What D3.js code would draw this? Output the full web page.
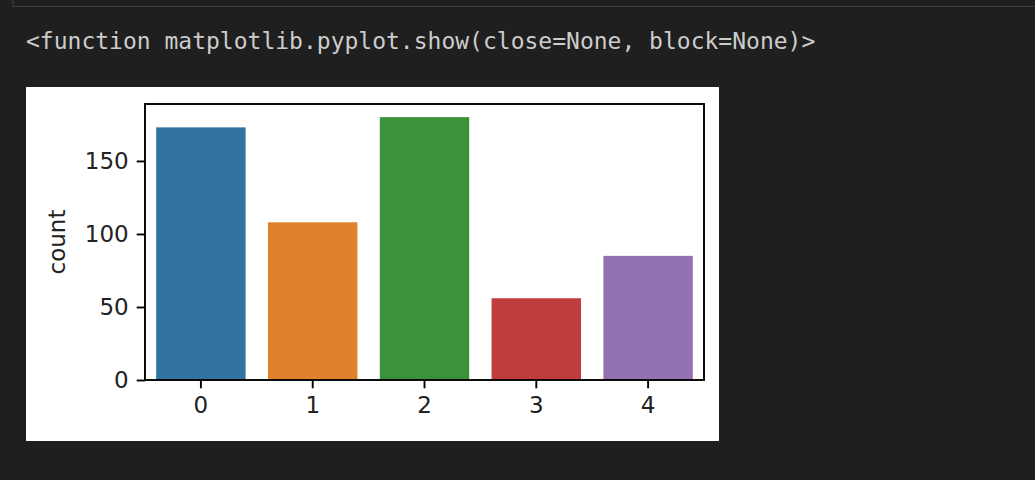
<!DOCTYPE html>
<html>
<head>
<meta charset="utf-8">
<script src="https://d3js.org/d3.v7.min.js"></script>
<style>
  body { margin: 0; background: #1f1f1f; }
  svg { display: block; }
</style>
</head>
<body>
<div id="chart"></div>
<script>
var categories = ["0", "1", "2", "3", "4"];
var counts = [173, 108, 180, 56, 85];
var yTicks = [0, 50, 100, 150];
var barColors = ["#3274a1", "#e1812c", "#3a923a", "#c03d3e", "#9372b2"];

var width = 1035, height = 480;
var fig = {left: 26, top: 87, right: 719, bottom: 441};
var margin = {top: 104, right: 704, bottom: 380, left: 145};

var svg = d3.select("#chart").append("svg")
    .attr("width", width)
    .attr("height", height);

// notebook chrome
svg.append("path")
    .attr("d", "M13,0 V6.5 H" + width)
    .attr("fill", "none")
    .attr("stroke", "#3c3c3c")
    .attr("stroke-width", 1.2);

svg.append("text")
    .attr("x", 26)
    .attr("y", 49)
    .attr("fill", "#cccccc")
    .style("font-family", "'DejaVu Sans Mono', monospace")
    .style("font-size", "23px")
    .text("<function matplotlib.pyplot.show(close=None, block=None)>");

// white figure
svg.append("rect")
    .attr("x", fig.left).attr("y", fig.top)
    .attr("width", fig.right - fig.left)
    .attr("height", fig.bottom - fig.top)
    .attr("fill", "#ffffff");

var x = d3.scaleBand()
    .domain(categories)
    .range([margin.left, margin.right])
    .paddingInner(0.2)
    .paddingOuter(0.1);

var y = d3.scaleLinear()
    .domain([0, d3.max(counts) * 1.05])
    .range([margin.bottom, margin.top]);

var g = svg.append("g");

g.selectAll("rect.bar")
    .data(counts)
    .enter()
    .append("rect")
        .attr("class", "bar")
        .attr("x", function(d, i){ return x(categories[i]); })
        .attr("y", function(d){ return y(d); })
        .attr("width", x.bandwidth())
        .attr("height", function(d){ return y(0) - y(d); })
        .attr("fill", function(d, i){ return barColors[i]; });

var fontSize = "23px";
var tickLen = 8.3;

var xAxis = g.append("g")
    .attr("transform", "translate(0," + margin.bottom + ")")
    .call(d3.axisBottom(x).tickSize(tickLen).tickPadding(8));

var yAxis = g.append("g")
    .attr("transform", "translate(" + margin.left + ",0)")
    .call(d3.axisLeft(y).tickValues(yTicks).tickSize(tickLen).tickPadding(8));

[xAxis, yAxis].forEach(function(ax){
  ax.select(".domain").remove();
  ax.selectAll(".tick line").attr("stroke", "#000").attr("stroke-width", 1.9);
  ax.selectAll(".tick text")
      .attr("fill", "#222")
      .style("font-family", "'DejaVu Sans', sans-serif")
      .style("font-size", fontSize);
});

// axes frame
g.append("rect")
    .attr("x", margin.left)
    .attr("y", margin.top)
    .attr("width", margin.right - margin.left)
    .attr("height", margin.bottom - margin.top)
    .attr("fill", "none")
    .attr("stroke", "#000")
    .attr("stroke-width", 1.9);

g.append("text")
    .attr("transform", "translate(57," + ((margin.top + margin.bottom) / 2) + ") rotate(-90)")
    .attr("text-anchor", "middle")
    .attr("dy", "0.35em")
    .attr("fill", "#222")
    .style("font-family", "'DejaVu Sans', sans-serif")
    .style("font-size", fontSize)
    .text("count");
</script>
</body>
</html>
